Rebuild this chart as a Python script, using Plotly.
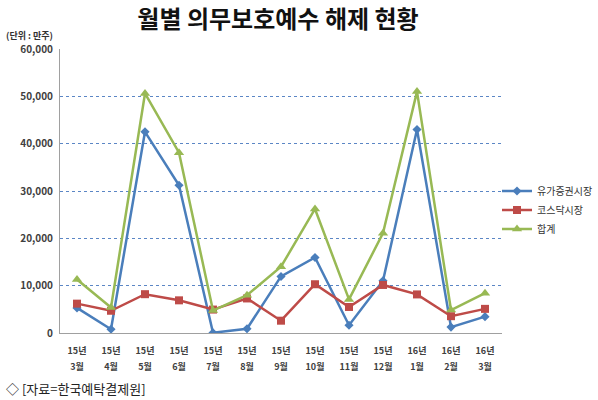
import plotly.graph_objects as go

# 데이터 (단위: 만주)
categories = ["15년 3월", "15년 4월", "15년 5월", "15년 6월", "15년 7월", "15년 8월", "15년 9월",
              "15년 10월", "15년 11월", "15년 12월", "16년 1월", "16년 2월", "16년 3월"]
year_labels = ["15년"] * 10 + ["16년"] * 3
month_labels = ["3월", "4월", "5월", "6월", "7월", "8월", "9월", "10월", "11월", "12월", "1월", "2월", "3월"]
kospi = [5300, 800, 42500, 31200, 50, 900, 11950, 15950, 1650, 11050, 43000, 1250, 3450]
kosdaq = [6200, 4700, 8200, 6900, 4950, 7300, 2600, 10300, 5500, 10150, 8150, 3550, 5100]
total = [11300, 5400, 50600, 38100, 4750, 8000, 14000, 26200, 7100, 21100, 51000, 4850, 8400]

font = "Noto Sans CJK KR"
W, H = 598, 400
L, R, T, B = 60, 96, 49, 67
pw, ph = W - L - R, H - T - B

fig = go.Figure()
fig.add_trace(go.Scatter(x=categories, y=kospi, name="유가증권시장", mode="lines+markers",
                         line=dict(color="#4A7EBB", width=2.5),
                         marker=dict(symbol="diamond", size=7, color="#4A7EBB")))
fig.add_trace(go.Scatter(x=categories, y=kosdaq, name="코스닥시장", mode="lines+markers",
                         line=dict(color="#BE4B48", width=2.5),
                         marker=dict(symbol="square", size=8, color="#BE4B48")))
# 합계는 두 번째 x축(월 라벨 줄)에 올림
fig.add_trace(go.Scatter(x=categories, y=total, name="합계", mode="lines+markers",
                         xaxis="x2",
                         line=dict(color="#98B954", width=2.5),
                         marker=dict(symbol="triangle-up", size=9, color="#98B954")))

fig.update_layout(
    width=W, height=H,
    margin=dict(l=L, r=R, t=T, b=B, autoexpand=False),
    paper_bgcolor="white", plot_bgcolor="white",
    font=dict(family=font, color="#404040"),
    title=dict(text="<b>월별 의무보호예수 해제 현황</b>", x=278 / W, xanchor="center",
               y=1 - 20 / H, yanchor="middle", font=dict(size=24, color="#111111")),
    legend=dict(x=(497 - L) / pw, y=(333 - 210) / ph, xanchor="left", yanchor="middle",
                font=dict(size=10, color="#333333"), bgcolor="rgba(255,255,255,0)"),
    showlegend=True,
)
fig.update_xaxes(
    tickvals=categories, ticktext=year_labels,
    showgrid=False, showline=True, linecolor="#A0A0A0", linewidth=1,
    tickfont=dict(size=9, color="#404040", weight="bold"), ticklabelstandoff=9,
    range=[-0.5, 12.5],
)
fig.update_layout(xaxis2=dict(
    overlaying="x", anchor="y", side="bottom", type="category", range=[-0.5, 12.5],
    tickvals=categories, ticktext=month_labels,
    showgrid=False, showline=False, zeroline=False,
    tickfont=dict(size=9, color="#404040", weight="bold"), ticklabelstandoff=27,
))
fig.update_yaxes(
    range=[0, 60000], dtick=10000, tickformat=",d",
    showgrid=True, gridcolor="#5B86C5", griddash="dot", gridwidth=1,
    showline=True, linecolor="#A0A0A0", linewidth=1, zeroline=False,
    tickfont=dict(size=10, color="#404040", weight="bold"), ticklabelstandoff=4,
)

fig.add_annotation(text="<b>(단위 : 만주)</b>", xref="paper", yref="paper",
                   x=(4 - L) / pw, y=(333 - 36) / ph, xanchor="left", yanchor="middle",
                   showarrow=False, font=dict(size=9, color="#333333"))
fig.add_annotation(text="◇ [자료=한국예탁결제원]", xref="paper", yref="paper",
                   x=(4 - L) / pw, y=(333 - 388) / ph, xanchor="left", yanchor="middle",
                   showarrow=False, font=dict(size=13, color="#222222"))

fig.write_html("out.html", config={"displayModeBar": False},
               post_script="document.body.style.margin='0';")
